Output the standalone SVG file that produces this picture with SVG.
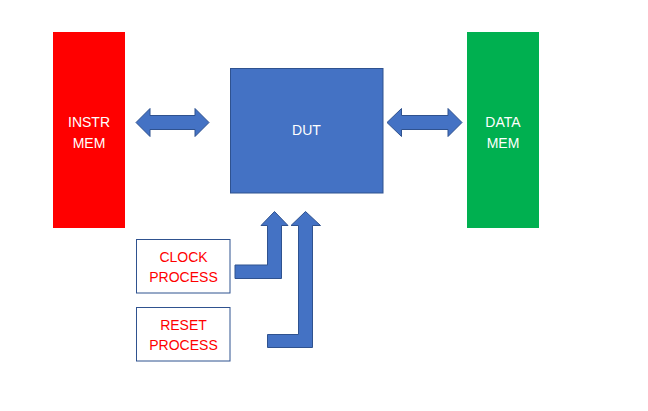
<svg xmlns="http://www.w3.org/2000/svg" width="648" height="411" viewBox="0 0 648 411">
<style>
.t{font-family:"Liberation Sans",Arial,sans-serif;font-size:14px;text-anchor:middle}
.w{fill:#FFFFFF}
.r{fill:#FF0000}
.arr{fill:#4472C4;stroke:#2F528F;stroke-width:1}
.proc{fill:#FFFFFF;stroke:#2F528F;stroke-width:1}
</style>
<rect width="648" height="411" fill="#FFFFFF"/>
<g id="instr_mem">
<rect x="53" y="32" width="72" height="196" fill="#FF0000"/>
<text class="t w" x="89" y="127">INSTR</text>
<text class="t w" x="89" y="147.5">MEM</text>
</g>
<g id="data_mem">
<rect x="467" y="32" width="72" height="196" fill="#00B050"/>
<text class="t w" x="503" y="127">DATA</text>
<text class="t w" x="503" y="147.5">MEM</text>
</g>
<g id="dut">
<rect x="230.5" y="68.5" width="152.5" height="124.5" fill="#4472C4" stroke="#2F528F" stroke-width="1"/>
<text class="t w" x="306.5" y="135">DUT</text>
</g>
<g id="clock_process">
<rect x="136.5" y="239.5" width="93.5" height="53.5" class="proc"/>
<text class="t r" x="183.5" y="261.5">CLOCK</text>
<text class="t r" x="183.5" y="281.5">PROCESS</text>
</g>
<g id="reset_process">
<rect x="136.5" y="307.5" width="93.5" height="53.5" class="proc"/>
<text class="t r" x="183.5" y="329.5">RESET</text>
<text class="t r" x="183.5" y="349.5">PROCESS</text>
</g>
<g id="connectors">
<polygon class="arr" points="136,122.5 150,108.5 150,115.5 195,115.5 195,108.5 209,122.5 195,136.5 195,129.5 150,129.5 150,136.5"/>
<polygon class="arr" points="387,122.5 401.5,108.5 401.5,115.5 448,115.5 448,108.5 462,122.5 448,136.5 448,129.5 401.5,129.5 401.5,136.5"/>
<polygon class="arr" points="235,265 267.5,265 267.5,225.5 261,225.5 274.5,211.5 288,225.5 281.5,225.5 281.5,278.5 235,278.5"/>
<polygon class="arr" points="267.5,334.5 298.5,334.5 298.5,225.5 291,225.5 305.5,211.5 320.5,225.5 312.5,225.5 312.5,347.5 267.5,347.5"/>
</g>
</svg>
